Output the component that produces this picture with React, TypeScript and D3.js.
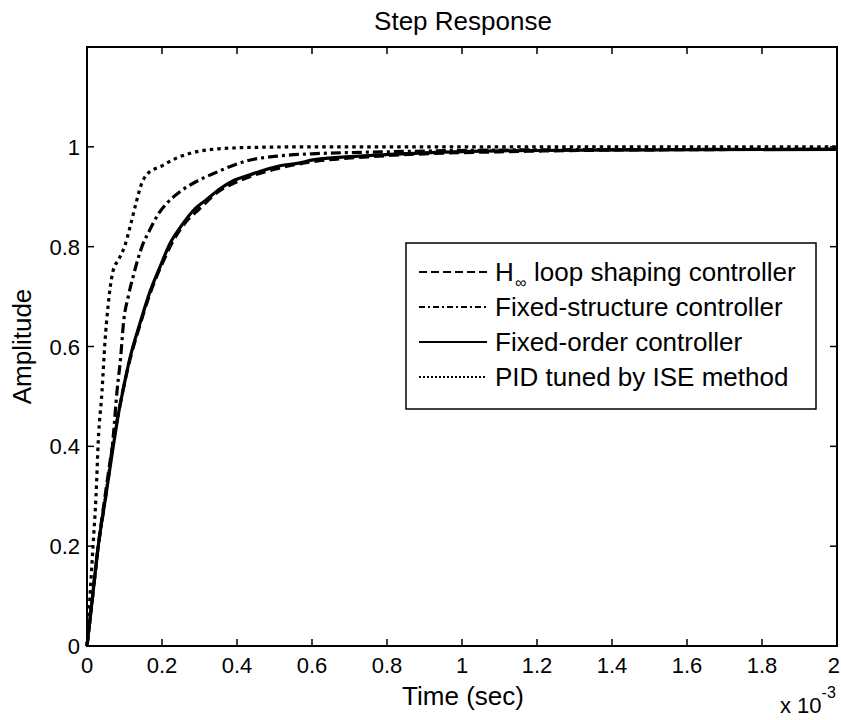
import React, { useEffect, useRef } from "react";
import * as d3 from "d3";

// time in units of 1e-3 sec
const hinfT = [0, 0.015, 0.03, 0.05, 0.07, 0.09, 0.11, 0.14, 0.17, 0.2, 0.23, 0.26, 0.3, 0.35, 0.4, 0.5, 0.6, 0.75, 0.9, 1.1, 1.5, 2.0];
const hinfA = [0, 0.1, 0.2, 0.31, 0.41, 0.49, 0.56, 0.64, 0.71, 0.765, 0.812, 0.846, 0.876, 0.91, 0.93, 0.955, 0.97, 0.98, 0.986, 0.99, 0.994, 0.995];

const fsT = [0, 0.015, 0.03, 0.05, 0.07, 0.08, 0.09, 0.097, 0.11, 0.123, 0.15, 0.165, 0.19, 0.213, 0.248, 0.29, 0.336, 0.427, 0.515, 0.6, 0.8, 1.2, 2.0];
const fsA = [0, 0.1, 0.2, 0.3, 0.42, 0.51, 0.58, 0.645, 0.7, 0.74, 0.807, 0.83, 0.865, 0.887, 0.91, 0.93, 0.946, 0.972, 0.982, 0.986, 0.99, 0.994, 0.995];

const foT = [0, 0.015, 0.03, 0.05, 0.07, 0.085, 0.096, 0.115, 0.141, 0.168, 0.195, 0.221, 0.25, 0.283, 0.32, 0.355, 0.39, 0.427, 0.515, 0.568, 0.603, 0.736, 0.9, 1.1, 1.5, 2.0];
const foA = [0, 0.1, 0.2, 0.3, 0.4, 0.47, 0.512, 0.578, 0.646, 0.71, 0.76, 0.806, 0.84, 0.872, 0.895, 0.916, 0.932, 0.942, 0.962, 0.968, 0.974, 0.982, 0.988, 0.992, 0.994, 0.995];

const pidT = [0, 0.008, 0.016, 0.024, 0.03, 0.04, 0.048, 0.056, 0.069, 0.085, 0.1, 0.115, 0.13, 0.145, 0.16, 0.2, 0.24, 0.28, 0.35, 0.45, 0.6, 2.0];
const pidA = [0, 0.1, 0.2, 0.3, 0.41, 0.51, 0.61, 0.68, 0.75, 0.775, 0.8, 0.84, 0.885, 0.925, 0.945, 0.962, 0.978, 0.988, 0.996, 0.999, 1.0, 1.0];

const xTicks = [0, 0.2, 0.4, 0.6, 0.8, 1, 1.2, 1.4, 1.6, 1.8, 2];
const yTicks = [0, 0.2, 0.4, 0.6, 0.8, 1];

const series = [
  { name: "Hinf", t: hinfT, a: hinfA, dash: "10,5", legendDash: "8,4" },
  { name: "Fixed-structure controller", t: fsT, a: fsA, dash: "10,4,3,4", legendDash: "6,3,2,3" },
  { name: "Fixed-order controller", t: foT, a: foA, dash: "none", legendDash: "none" },
  { name: "PID tuned by ISE method", t: pidT, a: pidA, dash: "3.5,4", legendDash: "2,2" },
];

const FONT = "'Liberation Sans', Arial, Helvetica, sans-serif";

const App = () => {
  const svgRef = useRef<SVGSVGElement>(null);

  useEffect(() => {
    const width = 841;
    const height = 720;
    const left = 87, right = 837, top = 47, bottom = 646;

    const svg = d3.select(svgRef.current);
    svg.selectAll("*").remove();
    svg.attr("width", width).attr("height", height);

    svg.append("rect").attr("width", width).attr("height", height).attr("fill", "#fff");

    const x = d3.scaleLinear().domain([0, 2]).range([left, right]);
    const y = d3.scaleLinear().domain([0, 1.2]).range([bottom, top]);

    // curves
    const line = d3.line<[number, number]>()
      .x(d => x(d[0]))
      .y(d => y(d[1]))
      .curve(d3.curveMonotoneX);

    series.forEach(s => {
      const pts = s.t.map((t, i) => [t, s.a[i]] as [number, number]);
      svg.append("path")
        .attr("d", line(pts))
        .attr("fill", "none")
        .attr("stroke", "#000")
        .attr("stroke-width", 3.2)
        .attr("stroke-dasharray", s.dash);
    });

    // axes box
    svg.append("rect")
      .attr("x", left).attr("y", top)
      .attr("width", right - left).attr("height", bottom - top)
      .attr("fill", "none").attr("stroke", "#000").attr("stroke-width", 2);

    const tl = 7;
    const ax = svg.append("g").attr("stroke", "#000").attr("stroke-width", 1.5);
    xTicks.forEach(v => {
      ax.append("line").attr("x1", x(v)).attr("x2", x(v)).attr("y1", bottom).attr("y2", bottom - tl);
      ax.append("line").attr("x1", x(v)).attr("x2", x(v)).attr("y1", top).attr("y2", top + tl);
    });
    yTicks.forEach(v => {
      ax.append("line").attr("x1", left).attr("x2", left + tl).attr("y1", y(v)).attr("y2", y(v));
      ax.append("line").attr("x1", right).attr("x2", right - tl).attr("y1", y(v)).attr("y2", y(v));
    });

    const txt = svg.append("g").attr("font-family", FONT).attr("fill", "#000");

    // last label sits on the figure edge, so anchor it inside
    txt.selectAll(".xt").data(xTicks).enter().append("text")
      .attr("x", (d, i) => i === xTicks.length - 1 ? width - 1 : x(d)).attr("y", bottom + 27)
      .attr("text-anchor", (d, i) => i === xTicks.length - 1 ? "end" : "middle")
      .attr("font-size", 22)
      .text(d => d3.format("")(d));

    txt.selectAll(".yt").data(yTicks).enter().append("text")
      .attr("x", left - 7).attr("y", d => y(d) + 8)
      .attr("text-anchor", "end").attr("font-size", 22)
      .text(d => d3.format("")(d));

    txt.append("text").attr("x", 463).attr("y", 30)
      .attr("text-anchor", "middle").attr("font-size", 26).text("Step Response");

    txt.append("text").attr("x", 463).attr("y", 705)
      .attr("text-anchor", "middle").attr("font-size", 26).text("Time (sec)");

    txt.append("text")
      .attr("transform", `translate(31,${(top + bottom) / 2}) rotate(-90)`)
      .attr("text-anchor", "middle").attr("font-size", 26).text("Amplitude");

    const exp = txt.append("text").attr("x", 780).attr("y", 713).attr("font-size", 22);
    exp.append("tspan").text("x 10");
    exp.append("tspan").attr("dy", -15).attr("font-size", 16).text("-3");

    // legend
    const lg = svg.append("g").attr("font-family", FONT);
    lg.append("rect")
      .attr("x", 406).attr("y", 243).attr("width", 410).attr("height", 166)
      .attr("fill", "#fff").attr("stroke", "#000").attr("stroke-width", 1.5);

    series.forEach((s, i) => {
      const ry = 272 + i * 35;
      lg.append("line")
        .attr("x1", 419).attr("x2", 487).attr("y1", ry).attr("y2", ry)
        .attr("stroke", "#000").attr("stroke-width", 2.2)
        .attr("stroke-dasharray", s.legendDash);
      if (i === 0) {
        lg.append("text").attr("x", 495).attr("y", ry + 9).attr("font-size", 26).text("H");
        lg.append("text").attr("x", 515).attr("y", ry + 16).attr("font-size", 16).text("\u221E");
        lg.append("text").attr("x", 534).attr("y", ry + 9).attr("font-size", 26).text("loop shaping controller");
      } else {
        lg.append("text").attr("x", 495).attr("y", ry + 9).attr("font-size", 26).text(s.name);
      }
    });
  }, []);

  return (
    <svg ref={svgRef} style={{ position: "absolute", left: 0, top: 0 }}></svg>
  );
};

export default App;
